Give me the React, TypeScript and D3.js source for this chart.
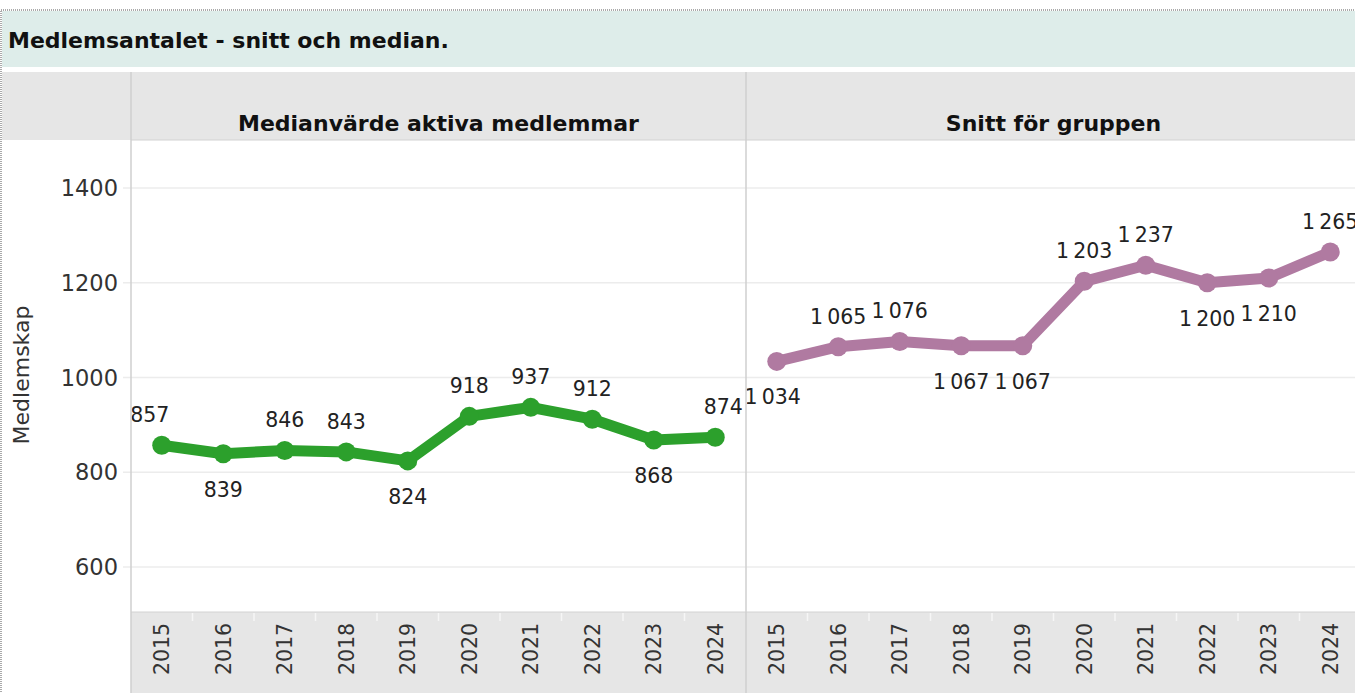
import React, { useEffect, useRef } from 'react';
import * as d3 from 'd3';

const years = ['2015', '2016', '2017', '2018', '2019', '2020', '2021', '2022', '2023', '2024'];
const medianValues = [857, 839, 846, 843, 824, 918, 937, 912, 868, 874];
const meanValues = [1034, 1065, 1076, 1067, 1067, 1203, 1237, 1200, 1210, 1265];
const medianLabelPos = ['up', 'down', 'up', 'up', 'down', 'up', 'up', 'up', 'down', 'up'];
const meanLabelPos = ['down', 'up', 'up', 'down', 'down', 'up', 'up', 'down', 'down', 'up'];
const yTicks = [600, 800, 1000, 1200, 1400];
const panelTitles = ['Medianvärde aktiva medlemmar', 'Snitt för gruppen'];

const W = 1355, H = 693;
const FONT = '"DejaVu Sans", "Noto Sans", sans-serif';

const App = () => {
  const ref = useRef<SVGSVGElement>(null);

  useEffect(() => {
    const svg = d3.select(ref.current);
    svg.selectAll('*').remove();

    const plotTop = 140, plotBottom = 612;
    const left0 = 131, panelW = 615;

    const y = d3.scaleLinear().domain([600, 1400]).range([567, 188]);
    const fmt = d3.formatLocale({ decimal: ',', thousands: '\u2009', grouping: [3], currency: ['', ' kr'] }).format(',d');

    // outer dotted frame + title band
    svg.append('rect').attr('x', 1).attr('y', 10).attr('width', W).attr('height', H)
      .attr('fill', 'white').attr('stroke', '#555').attr('stroke-dasharray', '1,1');
    svg.append('rect').attr('x', 2).attr('y', 11).attr('width', W).attr('height', 56).attr('fill', '#deedea');
    svg.append('text').attr('x', 8).attr('y', 48).attr('font-family', FONT)
      .attr('font-weight', 700).attr('font-size', 22).attr('fill', '#111')
      .text('Medlemsantalet - snitt och median.');

    // header row
    svg.append('rect').attr('x', 2).attr('y', 72).attr('width', W).attr('height', plotTop - 72).attr('fill', '#e6e6e6');
    svg.append('line').attr('x1', left0).attr('x2', W).attr('y1', plotTop).attr('y2', plotTop).attr('stroke', '#d2d2d2');

    // bottom band
    svg.append('rect').attr('x', left0).attr('y', plotBottom).attr('width', W - left0).attr('height', H - plotBottom).attr('fill', '#e6e6e6');
    svg.append('line').attr('x1', left0).attr('x2', W).attr('y1', plotBottom).attr('y2', plotBottom).attr('stroke', '#d2d2d2');

    // gridlines + y axis
    const grid = svg.append('g');
    yTicks.forEach(t => {
      grid.append('line').attr('x1', 123).attr('x2', W).attr('y1', y(t)).attr('y2', y(t))
        .attr('stroke', '#ececec').attr('stroke-width', 1.5);
      svg.append('text').attr('x', 118).attr('y', y(t)).attr('dy', '0.36em')
        .attr('text-anchor', 'end').attr('font-family', FONT).attr('font-size', 22.5).attr('fill', '#333')
        .text(t);
    });
    svg.append('text').attr('transform', `translate(29,375) rotate(-90)`)
      .attr('text-anchor', 'middle').attr('font-family', FONT).attr('font-size', 22).attr('fill', '#333')
      .text('Medlemskap');

    const panels = [
      { values: medianValues, pos: medianLabelPos, color: '#2ca02c' },
      { values: meanValues, pos: meanLabelPos, color: '#b07aa1' },
    ];

    panels.forEach((p, i) => {
      const x0 = left0 + i * panelW;
      const x = d3.scaleBand().domain(years).range([x0, x0 + panelW]);
      const cx = (d: string) => (x(d) as number) + x.bandwidth() / 2;

      svg.append('text').attr('x', x0 + panelW / 2).attr('y', 131).attr('text-anchor', 'middle')
        .attr('font-family', FONT).attr('font-weight', 700).attr('font-size', 22).attr('fill', '#111')
        .text(panelTitles[i]);

      // small ticks at band edges in bottom band
      years.slice(1).forEach(yr => {
        svg.append('line').attr('x1', x(yr) as number).attr('x2', x(yr) as number)
          .attr('y1', plotBottom + 1).attr('y2', plotBottom + 9).attr('stroke', '#f6f6f6').attr('stroke-width', 1.5);
      });

      years.forEach(yr => {
        svg.append('text').attr('transform', `translate(${cx(yr)},649) rotate(-90)`)
          .attr('text-anchor', 'middle').attr('dy', '0.36em')
          .attr('font-family', FONT).attr('font-size', 20.5).attr('fill', '#333')
          .text(yr);
      });

      const line = d3.line<number>().x((_, j) => cx(years[j])).y(v => y(v));
      svg.append('path').datum(p.values).attr('d', line).attr('fill', 'none')
        .attr('stroke', p.color).attr('stroke-width', 11).attr('stroke-linejoin', 'round');
      svg.append('g').selectAll('circle').data(p.values).enter().append('circle')
        .attr('cx', (_, j) => cx(years[j])).attr('cy', v => y(v)).attr('r', 9.5).attr('fill', p.color);

      svg.append('g').selectAll('text').data(p.values).enter().append('text')
        .attr('x', (_, j) => cx(years[j]) + (i === 0 && j === 0 ? -12 : i === 0 && j === 9 ? 8 : i === 1 && j === 0 ? -4 : 0))
        .attr('y', (v, j) => y(v) + (p.pos[j] === 'up' ? -23 : 43))
        .attr('text-anchor', 'middle').attr('font-family', FONT).attr('font-size', 20.5).attr('fill', '#222')
        .text(v => fmt(v));
    });

    // dividers
    [left0, left0 + panelW].forEach(xx => {
      svg.append('line').attr('x1', xx).attr('x2', xx).attr('y1', 72).attr('y2', H).attr('stroke', '#cfcfcf').attr('stroke-width', 1.5);
    });
  }, []);

  return <svg ref={ref} width={W} height={H} style={{ position: 'absolute', left: 0, top: 0 }} />;
};

export default App;
